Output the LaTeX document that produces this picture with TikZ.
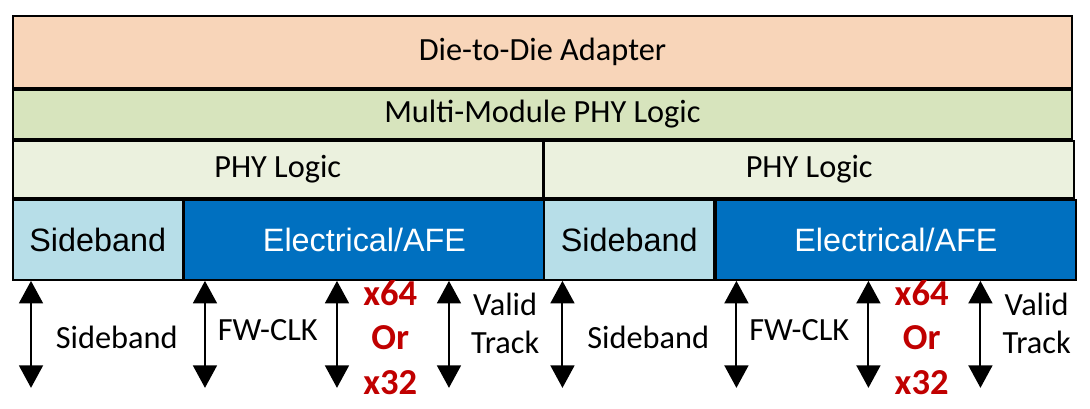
\documentclass[tikz,border=0pt]{standalone}
\usepackage{fontspec}
\setmainfont{Carlito}
\newfontfamily\arialfont{Liberation Sans}
\usepackage{tikz}
\usetikzlibrary{arrows.meta, positioning}

\definecolor{adaptercol}{HTML}{F8D5B9}
\definecolor{multicol}{HTML}{D7E4BD}
\definecolor{phycol}{HTML}{EBF1DE}
\definecolor{sbcol}{HTML}{B7DEE8}
\definecolor{afecol}{HTML}{0070C0}
\definecolor{lanecol}{HTML}{C00000}

\begin{document}
\begin{tikzpicture}[node distance=0pt,
        layer/.style={draw, line width=1.4pt, inner sep=0pt, font=\fontsize{23}{28}\selectfont},
        sideblk/.style={layer, fill=sbcol, minimum width=4.2375cm, minimum height=2cm, font=\arialfont\fontsize{23}{28}\selectfont},
        afeblk/.style={layer, fill=afecol, text=white, minimum width=9cm, minimum height=2cm, font=\arialfont\fontsize{23}{28}\selectfont},
        wire/.style={line width=1.4pt, {Triangle[length=16pt,width=17pt]}-{Triangle[length=16pt,width=17pt]}},
        lbl/.style={inner sep=0pt, font=\fontsize{23}{27}\selectfont, align=center},
        lanes/.style={inner sep=0pt, text=lanecol, font=\bfseries\fontsize{26}{31.5}\selectfont, align=center}]
            \useasboundingbox (0,0) rectangle (27.25,-10.225);
            % stack
            \node[layer, fill=adaptercol, minimum width=26.475cm, minimum height=1.8cm, anchor=north west] (adapter) at (0.3,-0.375) {Die-to-Die Adapter};
            \node[layer, fill=multicol, minimum width=26.475cm, minimum height=1.225cm] (multi) [below=of adapter] {Multi-Module PHY Logic};
            \node[layer, fill=phycol, minimum width=13.2375cm, minimum height=1.425cm] (phyL) [below right=of multi.south west] {PHY Logic};
            \node[layer, fill=phycol, minimum width=13.2375cm, minimum height=1.425cm] (phyR) [right=of phyL] {PHY Logic};
            \node[sideblk] (sbL) [below right=of phyL.south west] {Sideband};
            \node[afeblk] (afeL) [right=of sbL] {Electrical/AFE};
            \node[sideblk] (sbR) [below right=of phyR.south west] {Sideband};
            \node[afeblk] (afeR) [right=of sbR] {Electrical/AFE};
            % left module pins
            \coordinate (tL1) at ([xshift=0.475cm]sbL.south west);
            \coordinate (tL2) at ([xshift=0.5375cm]afeL.south west);
            \coordinate (tL3) at ([xshift=3.8375cm]afeL.south west);
            \coordinate (tL4) at ([xshift=6.6375cm]afeL.south west);
            \coordinate[below=2.675cm of tL1] (bL1);
            \coordinate[below=2.675cm of tL2] (bL2);
            \coordinate[below=2.675cm of tL3] (bL3);
            \coordinate[below=2.675cm of tL4] (bL4);
            \path[wire]
                (tL1) edge node[lbl, right=17pt, pos=.53] {Sideband} (bL1)
                (tL2) edge node[lbl, right=8.5pt, pos=.46] {FW-CLK} (bL2)
                (tL3) edge node[lanes, right=18pt, pos=.53] {x64\\Or\\x32} (bL3)
                (tL4) edge node[lbl, right=15pt, pos=.40] {Valid\\Track} (bL4);
            % right module pins
            \coordinate (tR1) at ([xshift=0.475cm]sbR.south west);
            \coordinate (tR2) at ([xshift=0.5375cm]afeR.south west);
            \coordinate (tR3) at ([xshift=3.8375cm]afeR.south west);
            \coordinate (tR4) at ([xshift=6.6375cm]afeR.south west);
            \coordinate[below=2.675cm of tR1] (bR1);
            \coordinate[below=2.675cm of tR2] (bR2);
            \coordinate[below=2.675cm of tR3] (bR3);
            \coordinate[below=2.675cm of tR4] (bR4);
            \path[wire]
                (tR1) edge node[lbl, right=17pt, pos=.53] {Sideband} (bR1)
                (tR2) edge node[lbl, right=8.5pt, pos=.46] {FW-CLK} (bR2)
                (tR3) edge node[lanes, right=18pt, pos=.53] {x64\\Or\\x32} (bR3)
                (tR4) edge node[lbl, right=15pt, pos=.40] {Valid\\Track} (bR4);
\end{tikzpicture}
\end{document}
